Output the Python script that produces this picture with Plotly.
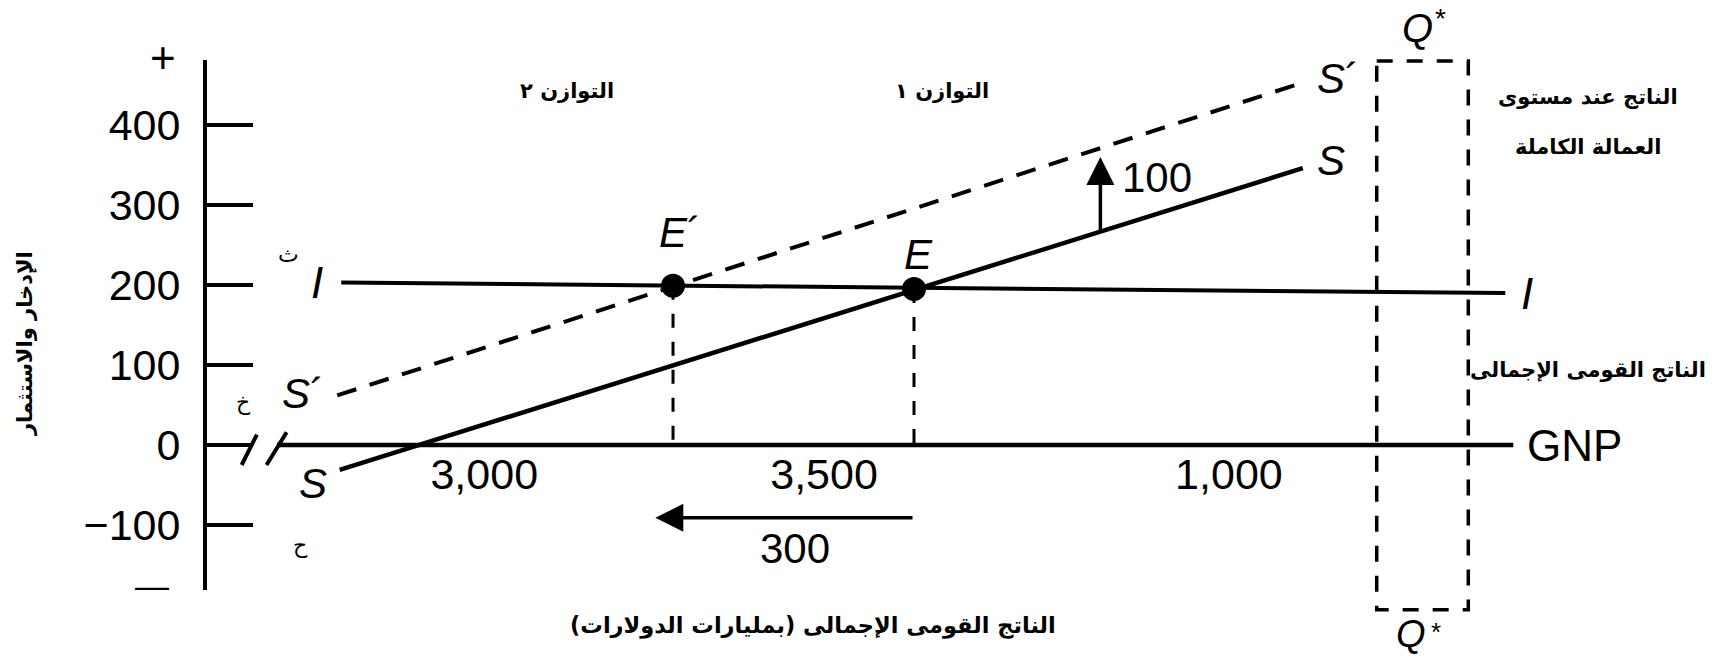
import plotly.graph_objects as go

# ---------------- data ----------------
# vertical axis: saving and investment
y_tick_vals = [400, 300, 200, 100, 0, -100]
y_tick_text = ["400", "300", "200", "100", "0", "−100"]

# labels written under the GNP line
gnp_tick_x = [2965, 3388, 3892]
gnp_tick_text = ["3,000", "3,500", "1,000"]

# saving schedule S (solid)
S_x = [2785, 3984]
S_y = [-31, 346]

# shifted saving schedule S´ (dashed)
S2_x = [2782, 3987]
S2_y = [62, 454]

# investment schedule I
I_x = [2787, 4236]
I_y = [203, 190]

# GNP line (horizontal axis after the break)
GNP_x = [2707, 4246]
GNP_y = [0, 0]

# axis break marks "//"
break1_x = [2663, 2682]
break1_y = [-25, 13]
break2_x = [2694, 2719]
break2_y = [-25, 16]

# equilibria E´ and E
eq_x = [3200, 3500]
eq_y = [199, 195]

# full-employment output band Q*
Q_x = [4076, 4190]
Q_y = [-206, 480]

# shift arrows
up_x, up_y0, up_y1, up_text = 3732, 267, 360, "100"
left_y, left_x0, left_x1, left_text = -91, 3500, 3178, "300"

# ---------------- figure ----------------
W, H = 1726, 657
x_range = [2362.2, 4510.8]
y_range = [-265.0, 556.25]
y2_range = [-181.25, 481.25]

LAT = "Liberation Sans, Arial, sans-serif"
AR = "DejaVu Sans, sans-serif"


def px(xp):
    return xp / W


def py(yp):
    return 1 - yp / H


fig = go.Figure()


def add_line(x, y, width, dash="solid"):
    fig.add_trace(go.Scatter(x=x, y=y, mode="lines",
                             line=dict(color="black", width=width, dash=dash),
                             hoverinfo="skip"))


# GNP line and break marks
add_line(GNP_x, GNP_y, 4.5)
add_line(break1_x, break1_y, 4)
add_line(break2_x, break2_y, 4)

# investment line
add_line(I_x, I_y, 4)

# saving schedules
add_line(S_x, S_y, 4.5)
add_line(S2_x, S2_y, 4, dash="20px,14px")

# dashed drops from equilibria to the GNP line
for ex, ey in zip(eq_x, eq_y):
    add_line([ex, ex], [ey, 0], 3, dash="14px,14px")

# Q* band
add_line([Q_x[0], Q_x[1], Q_x[1], Q_x[0], Q_x[0]],
         [Q_y[1], Q_y[1], Q_y[0], Q_y[0], Q_y[1]], 3.5, dash="16px,14px")

# equilibrium points
fig.add_trace(go.Scatter(x=eq_x, y=eq_y, mode="markers",
                         marker=dict(color="black", size=24), hoverinfo="skip"))

# invisible trace to hold the vertical axis subplot
fig.add_trace(go.Scatter(x=[0.5], y=[0], xaxis="x2", yaxis="y2", mode="markers",
                         marker=dict(opacity=0), hoverinfo="skip"))

ann = []


def txt(x, y, text, size, family=LAT, xanchor="center", yanchor="middle", angle=0):
    ann.append(dict(x=px(x), y=py(y), xref="paper", yref="paper", text=text,
                    showarrow=False, xanchor=xanchor, yanchor=yanchor, textangle=angle,
                    font=dict(size=size, family=family, color="black")))


# arrows
ann.append(dict(x=up_x, y=up_y1, ax=up_x, ay=up_y0, xref="x", yref="y", axref="x", ayref="y",
                text="", showarrow=True, arrowhead=2, arrowsize=1.6, arrowwidth=3.5,
                arrowcolor="black", standoff=0))
ann.append(dict(x=left_x1, y=left_y, ax=left_x0, ay=left_y, xref="x", yref="y", axref="x", ayref="y",
                text="", showarrow=True, arrowhead=2, arrowsize=1.6, arrowwidth=3.5,
                arrowcolor="black", standoff=0))
txt(1120, 177, up_text, 42, xanchor="left")
txt(795, 548, left_text, 42)

# axis end signs
txt(163, 57, "+", 44)
txt(152, 585, "—", 34)

# axis titles (Arabic)
txt(25, 344, "<b>الإدخار والاستثمار</b>", 21, family=AR, angle=-90)
txt(813, 625, "<b>الناتج القومى الإجمالى (بمليارات الدولارات)</b>", 22.5, family=AR)

# top labels
txt(567, 91, "<b>التوازن ٢</b>", 21, family=AR)
txt(942, 91, "<b>التوازن ١</b>", 21, family=AR)
txt(1588, 97, "<b>الناتج عند مستوى</b>", 21, family=AR)
txt(1588, 147, "<b>العمالة الكاملة</b>", 21, family=AR)
txt(1588, 370, "<b>الناتج القومى الإجمالى</b>", 21, family=AR)

# small Arabic letters
txt(288, 254, "ث", 22, family=AR)
txt(243, 402, "خ", 22, family=AR)
txt(300, 545, "ح", 22, family=AR)

# curve / point labels
txt(1525, 445, "GNP", 44, xanchor="left")
txt(317, 283, "<i>I</i>", 44)
txt(1527, 293, "<i>I</i>", 44)
txt(303, 393, "<i>S</i>´", 42)
txt(313, 483, "<i>S</i>", 42)
txt(1315, 78, "<i>S</i>´", 42, xanchor="left")
txt(1315, 160, "<i>S</i>", 42, xanchor="left")
txt(680, 232, "<i>E</i>´", 42)
txt(918, 255, "<i>E</i>", 42)
# Q* labels
txt(1417, 28, "<i>Q</i>", 40)
txt(1440, 18, "*", 28)
txt(1411, 657, "<i>Q</i>", 38, yanchor="bottom")
txt(1436, 632, "*", 26)

fig.update_layout(
    width=W, height=H,
    margin=dict(l=0, r=0, t=0, b=0),
    paper_bgcolor="white", plot_bgcolor="rgba(0,0,0,0)",
    showlegend=False,
    annotations=ann,
    xaxis=dict(domain=[0, 1], range=x_range, anchor="free",
               position=(0 - y_range[0]) / (y_range[1] - y_range[0]),
               showline=False, showgrid=False, zeroline=False,
               tickmode="array", tickvals=gnp_tick_x, ticktext=gnp_tick_text, ticks="",
               tickfont=dict(size=43, family=LAT, color="black"), ticklabelstandoff=0),
    yaxis=dict(domain=[0, 1], range=y_range, visible=False, anchor="x"),
    xaxis2=dict(domain=[207 / W, 260 / W], range=[0, 1], visible=False, anchor="y2"),
    yaxis2=dict(domain=[(H - 590) / H, (H - 60) / H], range=y2_range, anchor="x2",
                showline=True, linewidth=4, linecolor="black",
                ticks="inside", ticklen=46, tickwidth=4, tickcolor="black",
                tickmode="array", tickvals=y_tick_vals, ticktext=y_tick_text,
                tickfont=dict(size=43, family=LAT, color="black"),
                showgrid=False, zeroline=False, ticklabelstandoff=14),
)

fig.write_html("out.html", config={"displayModeBar": False},
               post_script="document.body.style.margin='0';document.body.style.overflow='hidden';")
